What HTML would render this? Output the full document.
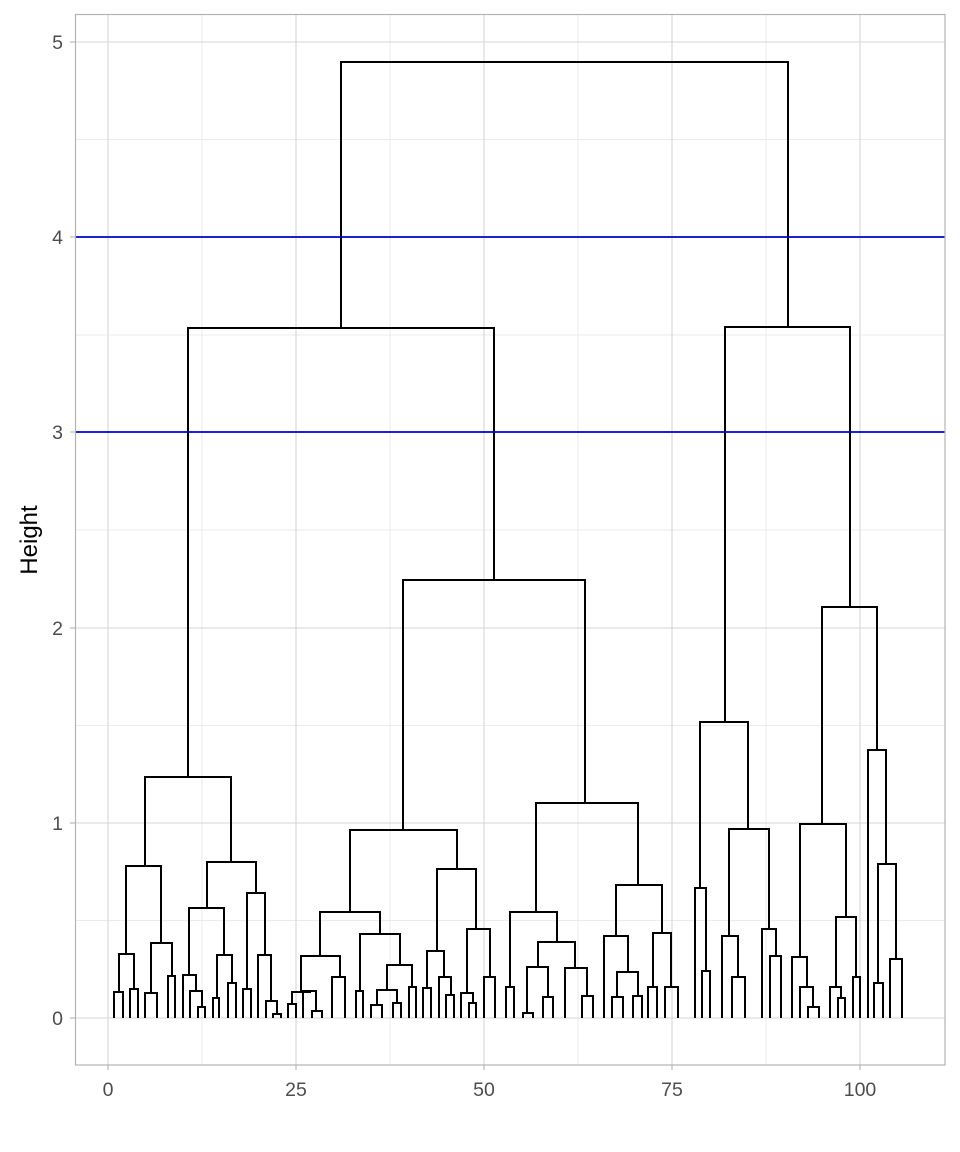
<!DOCTYPE html>
<html><head><meta charset="utf-8"><style>
html,body{margin:0;padding:0;background:#fff;}
svg{display:block;font-family:"Liberation Sans",sans-serif;}
</style></head><body>
<svg width="960" height="1152" viewBox="0 0 960 1152" xmlns="http://www.w3.org/2000/svg">
<rect x="0" y="0" width="960" height="1152" fill="#fff"/>
<g stroke="#ebebeb" stroke-width="1">
<line x1="75" x2="945" y1="920.5" y2="920.5"/><line x1="75" x2="945" y1="725.5" y2="725.5"/>
<line x1="75" x2="945" y1="530" y2="530"/><line x1="75" x2="945" y1="335" y2="335"/>
<line x1="75" x2="945" y1="139.5" y2="139.5"/>
<line x1="202" x2="202" y1="14" y2="1065"/><line x1="390" x2="390" y1="14" y2="1065"/>
<line x1="578" x2="578" y1="14" y2="1065"/><line x1="766" x2="766" y1="14" y2="1065"/>
</g>
<g stroke="#d6d6d6" stroke-width="1.1">
<line x1="75" x2="945" y1="1018" y2="1018"/><line x1="75" x2="945" y1="823" y2="823"/>
<line x1="75" x2="945" y1="628" y2="628"/><line x1="75" x2="945" y1="432" y2="432"/>
<line x1="75" x2="945" y1="237" y2="237"/><line x1="75" x2="945" y1="42" y2="42"/>
<line x1="108" x2="108" y1="14" y2="1065"/><line x1="296" x2="296" y1="14" y2="1065"/>
<line x1="484" x2="484" y1="14" y2="1065"/><line x1="672" x2="672" y1="14" y2="1065"/>
<line x1="860" x2="860" y1="14" y2="1065"/>
</g>
<g stroke="#b3b3b3" stroke-width="1.1">
<line x1="70" x2="75" y1="1018" y2="1018"/><line x1="70" x2="75" y1="823" y2="823"/>
<line x1="70" x2="75" y1="628" y2="628"/><line x1="70" x2="75" y1="432" y2="432"/>
<line x1="70" x2="75" y1="237" y2="237"/><line x1="70" x2="75" y1="42" y2="42"/>
<line x1="108" x2="108" y1="1065" y2="1070"/><line x1="296" x2="296" y1="1065" y2="1070"/>
<line x1="484" x2="484" y1="1065" y2="1070"/><line x1="672" x2="672" y1="1065" y2="1070"/>
<line x1="860" x2="860" y1="1065" y2="1070"/>
</g>
<g fill="none" stroke="#000" stroke-width="2" stroke-linejoin="miter">
<path d="M341 328V62H788V327M188 777V328H494V580M725 722V327H850V607
M145 866V777H231V862M126 954V866H161V943M119 992V954H134V989
M114 1018V992H123V1018M130 1018V989H138V1018M151 993V943H172V976
M145 1018V993H157V1018M168 1018V976H175V1018M207 908V862H256V893
M189 975V908H224V955M183 1018V975H196V991M190 1018V991H202V1007M198 1018V1007H205V1018
M217 998V955H232V983M213 1018V998H219V1018M228 1018V983H236V1018
M247 989V893H265V955M243 1018V989H251V1018M258 1018V955H271V1001M266 1018V1001H277V1014M273 1018V1014H281V1018
M403 830V580H585V803M350 912V830H457V869M320 956V912H380V934M301 992V956H340V977
M292 1004V992H310V991M288 1018V1004H296V1018M303 1018V991H316V1011M312 1018V1011H322V1018
M332 1018V977H345V1018M360 991V934H400V965M356 1018V991H363V1018M387 990V965H412V987
M377 1005V990H397V1003M371 1018V1005H382V1018M393 1018V1003H401V1018M409 1018V987H416V1018
M437 951V869H476V929M427 988V951H444V977M423 1018V988H431V1018M439 1018V977H451V995M446 1018V995H454V1018
M467 993V929H490V977M461 1018V993H473V1003M469 1018V1003H476V1018M484 1018V977H495V1018
M536 912V803H638V885M510 987V912H557V942M506 1018V987H514V1018M538 967V942H575V968
M527 1013V967H548V997M523 1018V1013H533V1018M543 1018V997H553V1018M565 1018V968H587V996M582 1018V996H593V1018
M616 936V885H662V933M604 1018V936H628V972M617 997V972H638V996M612 1018V997H623V1018M633 1018V996H642V1018
M653 987V933H671V987M648 1018V987H657V1018M665 1018V987H678V1018
M700 888V722H748V829M695 1018V888H706V971M702 1018V971H710V1018M729 936V829H769V929
M722 1018V936H738V977M732 1018V977H745V1018M762 1018V929H776V956M770 1018V956H781V1018
M822 824V607H877V750M800 957V824H846V917M792 1018V957H807V987M800 1018V987H813V1007M808 1018V1007H819V1018
M836 987V917H856V977M830 1018V987H841V998M838 1018V998H845V1018M853 1018V977H860V1018
M868 1018V750H886V864M878 983V864H896V959M874 1018V983H883V1018M890 1018V959H902V1018"/>
</g>
<g stroke="#0000cd" stroke-width="1.8">
<line x1="75" x2="945" y1="237" y2="237"/><line x1="75" x2="945" y1="432" y2="432"/>
</g>
<rect x="75.5" y="14.5" width="869.5" height="1050.5" fill="none" stroke="#b3b3b3" stroke-width="1.2"/>
<g fill="#4d4d4d" font-size="19.5" text-anchor="end">
<text x="63" y="1025">0</text><text x="63" y="830">1</text><text x="63" y="635">2</text>
<text x="63" y="439">3</text><text x="63" y="244">4</text><text x="63" y="49">5</text>
</g>
<g fill="#4d4d4d" font-size="19.5" text-anchor="middle">
<text x="108" y="1096">0</text><text x="296" y="1096">25</text><text x="484" y="1096">50</text>
<text x="672" y="1096">75</text><text x="860" y="1096">100</text>
</g>
<text x="37" y="540" font-size="24" fill="#000" text-anchor="middle" transform="rotate(-90 37 540)">Height</text>
</svg>
</body></html>
